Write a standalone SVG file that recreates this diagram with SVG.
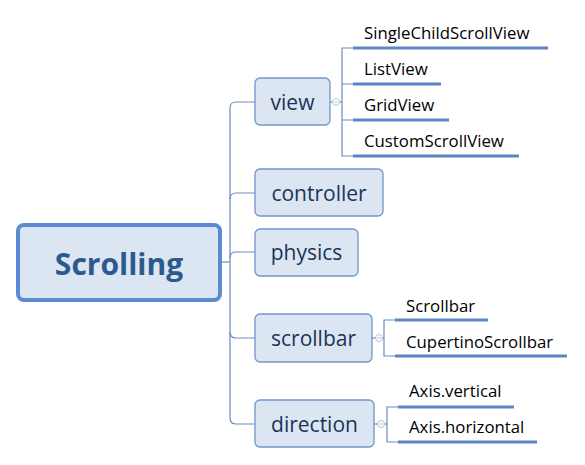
<svg xmlns="http://www.w3.org/2000/svg" width="585" height="465" viewBox="0 0 585 465">
<style>
.root{fill:#dce6f2;stroke:#5a8ad2;stroke-width:4}
.roott{font-family:"Open Sans",sans-serif;font-weight:bold;font-size:30px;fill:#2c5a8e;text-anchor:middle}
.box{fill:#dce6f2;stroke:#7196cb;stroke-width:1.3}
.boxt{font-family:"Open Sans",sans-serif;font-size:21px;fill:#1a3458;text-anchor:middle}
.leaf{font-family:"Open Sans",sans-serif;font-size:16.8px;fill:#000}
.ul{stroke:#5b86c3;stroke-width:3;fill:none}
.ln{stroke:#6b8cc0;stroke-width:1.2;fill:none}
.col{fill:#fff;stroke:#b9c3d3;stroke-width:1}
.colm{stroke:#b9c3d3;stroke-width:1}
</style>
<g id="connectors">
<path class="ln" d="M221,262 H230"/>
<path class="ln" d="M255,102 H236 Q230,102 230,108 V418 Q230,424 236,424 H255"/>
<path class="ln" d="M255,193 H236 Q230,193 230,199"/>
<path class="ln" d="M255,252 H236 Q230,252 230,258"/>
<path class="ln" d="M255,338 H236 Q230,338 230,332"/>
<path class="ln" d="M330,102 H342"/>
<path class="ln" d="M353,48 H342 V156 H353 M342,84 H353 M342,120 H353"/>
<path class="ln" d="M372,338 H384"/>
<path class="ln" d="M395,320 H384 V356 H395"/>
<path class="ln" d="M374,424 H387"/>
<path class="ln" d="M398,407 H387 V442 H398"/>
</g>
<g id="root">
<rect class="root" x="18" y="225" width="202" height="75" rx="6"/>
<text class="roott" x="119" y="275">Scrolling</text>
</g>
<g id="view">
<rect class="box" x="255" y="78" width="75" height="47" rx="5"/>
<text class="boxt" x="292.5" y="110">view</text>
<circle class="col" cx="336" cy="102" r="3.5"/><path class="colm" d="M334,102 H338"/>
</g>
<g id="controller">
<rect class="box" x="255" y="169" width="128" height="47" rx="5"/>
<text class="boxt" x="319" y="201">controller</text>
</g>
<g id="physics">
<rect class="box" x="255" y="229" width="103" height="47" rx="5"/>
<text class="boxt" x="306.5" y="260">physics</text>
</g>
<g id="scrollbar">
<rect class="box" x="255" y="314" width="117" height="48" rx="5"/>
<text class="boxt" x="313.5" y="346">scrollbar</text>
<circle class="col" cx="379" cy="338" r="3.5"/><path class="colm" d="M377,338 H381"/>
</g>
<g id="direction">
<rect class="box" x="255" y="400" width="119" height="47" rx="5"/>
<text class="boxt" x="314.5" y="432">direction</text>
<circle class="col" cx="381" cy="424" r="3.5"/><path class="colm" d="M379,424 H383"/>
</g>
<g id="leaf-singlechild"><text class="leaf" x="364" y="39">SingleChildScrollView</text><path class="ul" d="M353,48 H548"/></g>
<g id="leaf-listview"><text class="leaf" x="364" y="75">ListView</text><path class="ul" d="M353,84 H441"/></g>
<g id="leaf-gridview"><text class="leaf" x="364" y="111">GridView</text><path class="ul" d="M353,120 H449"/></g>
<g id="leaf-custom"><text class="leaf" x="364" y="147">CustomScrollView</text><path class="ul" d="M353,156 H519"/></g>
<g id="leaf-scrollbar"><text class="leaf" x="406" y="312">Scrollbar</text><path class="ul" d="M395,320 H488"/></g>
<g id="leaf-cupertino"><text class="leaf" x="406" y="348">CupertinoScrollbar</text><path class="ul" d="M395,356 H567"/></g>
<g id="leaf-vertical"><text class="leaf" x="409" y="397">Axis.vertical</text><path class="ul" d="M398,407 H514"/></g>
<g id="leaf-horizontal"><text class="leaf" x="409" y="433">Axis.horizontal</text><path class="ul" d="M398,442 H537"/></g>
</svg>
